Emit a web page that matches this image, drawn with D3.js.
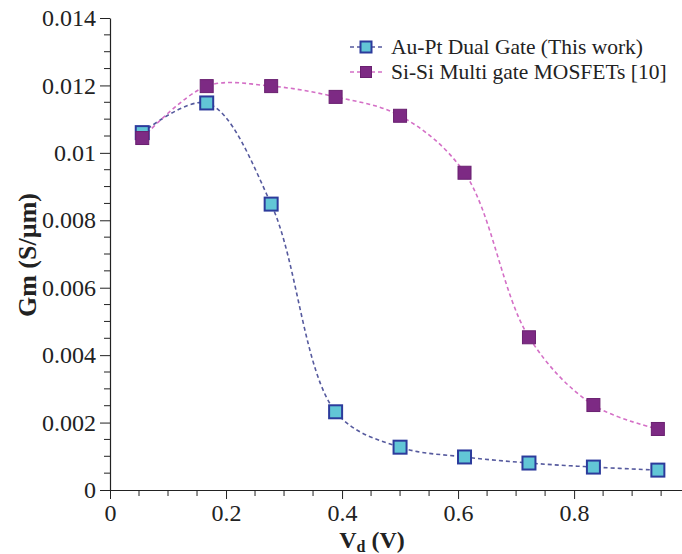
<!DOCTYPE html>
<html>
<head>
<meta charset="utf-8">
<script src="https://cdn.jsdelivr.net/npm/d3@7"></script>
<style>
  html, body { margin: 0; padding: 0; background: #fff; }
  svg { display: block; }
  text { font-family: "Liberation Serif", "Times New Roman", serif; fill: #222; }
</style>
</head>
<body>
<svg id="chart" width="682" height="554"></svg>
<script>
// Drain voltage (V)
const vd = [0.0556, 0.1667, 0.2778, 0.3889, 0.5, 0.6111, 0.7222, 0.8333, 0.9444];
// Transconductance (S/µm)
const gmAuPt = [0.0106, 0.01148, 0.00848, 0.00232, 0.00127, 0.00098, 0.0008, 0.00068, 0.00059];
const gmSiSi = [0.01044, 0.01198, 0.01198, 0.01166, 0.0111, 0.00941, 0.00453, 0.00252, 0.00181];
const seriesNames = ["Au-Pt Dual Gate (This work)", "Si-Si Multi gate MOSFETs [10]"];
const xTicks = [0, 0.2, 0.4, 0.6, 0.8];
const yTicks = [0, 0.002, 0.004, 0.006, 0.008, 0.01, 0.012, 0.014];
const yTickLabels = ["0", "0.002", "0.004", "0.006", "0.008", "0.01", "0.012", "0.014"];

const svg = d3.select("#chart");
const x = d3.scaleLinear().domain([0, 0.986]).range([110, 682]);
const y = d3.scaleLinear().domain([0, 0.014]).range([490, 18]);

const styles = [
  { line: "#565a9e", fill: "#62c6d6", stroke: "#2c3b9c" },
  { line: "#d46fc6", fill: "#7d2a84", stroke: "#6a2070" }
];

// Minor ticks every 0.05 V and 0.0005 S/µm
const xMinor = d3.range(0, 0.96, 0.05).filter(v => !xTicks.some(t => Math.abs(t - v) < 1e-9));
const yMinor = d3.range(0, 0.01401, 0.0005).filter(v => !yTicks.some(t => Math.abs(t - v) < 1e-9));

const xAxis = svg.append("g").attr("transform", `translate(0,${y(0)})`)
  .call(d3.axisBottom(x).tickValues(xTicks).tickFormat(d3.format("")).tickSize(9).tickSizeOuter(0).tickPadding(5));
svg.append("g").selectAll("line").data(xMinor).join("line")
  .attr("x1", d => x(d)).attr("x2", d => x(d))
  .attr("y1", y(0)).attr("y2", y(0) + 6)
  .attr("stroke", "#222").attr("stroke-width", 1);

const yAxis = svg.append("g").attr("transform", `translate(${x(0)},0)`)
  .call(d3.axisLeft(y).tickValues(yTicks).tickFormat((d, i) => yTickLabels[i]).tickSize(10).tickSizeOuter(0).tickPadding(4));
svg.append("g").selectAll("line").data(yMinor).join("line")
  .attr("x1", x(0) - 6).attr("x2", x(0))
  .attr("y1", d => y(d)).attr("y2", d => y(d))
  .attr("stroke", "#222").attr("stroke-width", 1);

[xAxis, yAxis].forEach(g => {
  g.attr("font-family", null).attr("font-size", null);
  g.select(".domain").attr("stroke", "#222").attr("stroke-width", 1.2);
  g.selectAll(".tick line").attr("stroke", "#222");
  g.selectAll(".tick text").style("font-size", "24px").attr("fill", "#222");
});

// Axis titles
svg.append("text")
  .attr("transform", `translate(36,255) rotate(-90)`)
  .attr("text-anchor", "middle")
  .style("font-size", "26px").attr("font-weight", "bold")
  .text("Gm (S/µm)");

const xt = svg.append("text")
  .attr("x", 372).attr("y", 548)
  .attr("text-anchor", "middle")
  .style("font-size", "24px").attr("font-weight", "bold");
xt.append("tspan").text("V");
xt.append("tspan").style("font-size", "16px").attr("dy", 4).text("d");
xt.append("tspan").attr("dy", -4).text(" (V)");

// Curves and markers
const line = d3.line()
  .x(d => x(d[0])).y(d => y(d[1]))
  .curve(d3.curveCatmullRom.alpha(0.5));

const series = [gmAuPt, gmSiSi];
series.forEach((vals, i) => {
  const pts = vd.map((v, j) => [v, vals[j]]);
  svg.append("path").datum(pts)
    .attr("d", line)
    .attr("fill", "none")
    .attr("stroke", styles[i].line)
    .attr("stroke-width", 1.6)
    .attr("stroke-dasharray", "4,3");
});
series.forEach((vals, i) => {
  const pts = vd.map((v, j) => [v, vals[j]]);
  const s = 13;
  svg.append("g").selectAll("rect").data(pts).join("rect")
    .attr("x", d => x(d[0]) - s / 2).attr("y", d => y(d[1]) - s / 2)
    .attr("width", s).attr("height", s)
    .attr("fill", styles[i].fill)
    .attr("stroke", styles[i].stroke)
    .attr("stroke-width", i === 0 ? 2 : 1);
});

// Legend
const legend = svg.append("g");
seriesNames.forEach((name, i) => {
  const cy = 47 + i * 25;
  legend.append("line")
    .attr("x1", 350).attr("x2", 382).attr("y1", cy).attr("y2", cy)
    .attr("stroke", styles[i].line).attr("stroke-width", 1.6).attr("stroke-dasharray", "4,3");
  const s = 11;
  legend.append("rect")
    .attr("x", 366 - s / 2).attr("y", cy - s / 2).attr("width", s).attr("height", s)
    .attr("fill", styles[i].fill).attr("stroke", styles[i].stroke)
    .attr("stroke-width", i === 0 ? 2 : 1);
  legend.append("text")
    .attr("x", 391).attr("y", cy + 7)
    .style("font-size", "21.5px")
    .text(name);
});
</script>
</body>
</html>
